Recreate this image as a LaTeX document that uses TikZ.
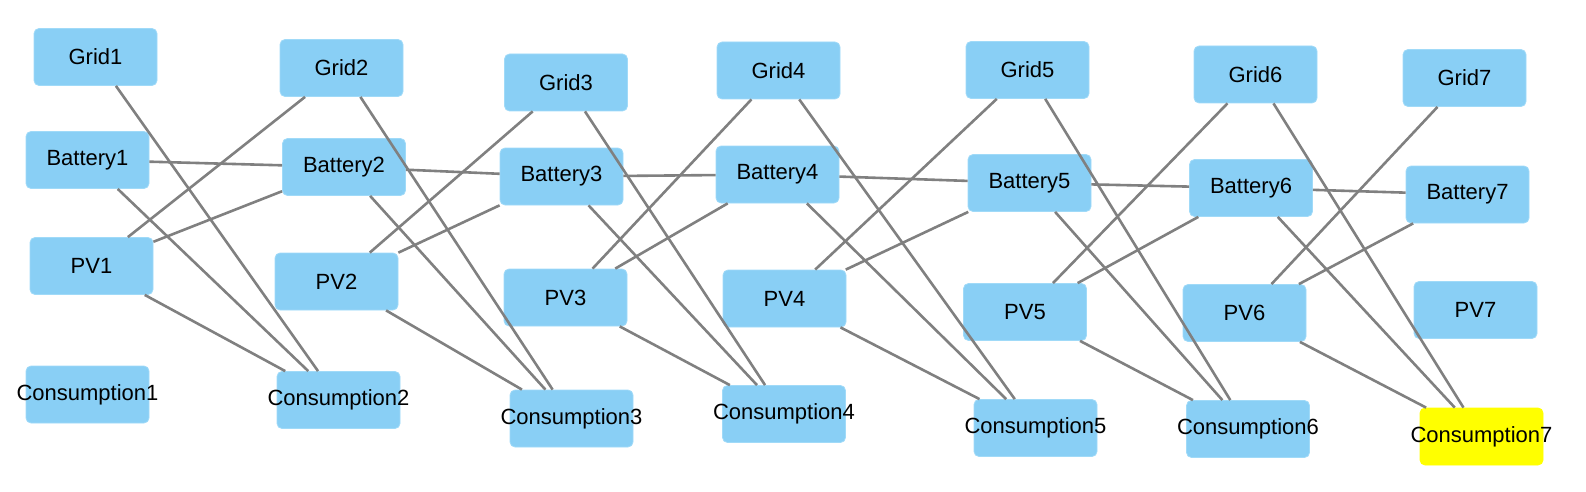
\documentclass[tikz,border=0pt]{standalone}
\usepackage{fontspec}
\setmainfont{Liberation Sans}
\definecolor{boxblue}{RGB}{137,207,245}
\definecolor{boxedge}{RGB}{160,218,248}
\definecolor{linegray}{RGB}{128,128,128}
\definecolor{hiyellow}{RGB}{255,255,0}
\newcommand\lbl[1]{\makebox[0pt]{#1}}
\begin{document}
\begin{tikzpicture}[x=1pt,y=-1pt,
  nodebox/.style={rectangle,rounded corners=5pt,fill=boxblue,draw=boxedge,line width=0.8pt,
    minimum width=123pt,minimum height=57pt,inner sep=0pt,
    font=\fontsize{22}{26}\selectfont},
  hinode/.style={nodebox,fill=hiyellow,draw=hiyellow},
  link/.style={draw=linegray,line width=2.6pt}]
\useasboundingbox (0,0) rectangle (1586,492);
% Grid row
\node[nodebox] (g1) at (95.5,57) {Grid1};
\node[nodebox] (g2) at (341.5,68) {Grid2};
\node[nodebox] (g3) at (566,82.5) {Grid3};
\node[nodebox] (g4) at (778.5,70.5) {Grid4};
\node[nodebox] (g5) at (1027.5,70) {Grid5};
\node[nodebox] (g6) at (1255.5,74.5) {Grid6};
\node[nodebox] (g7) at (1464.5,78) {Grid7};
% Battery row
\node[nodebox] (b1) at (87.5,160) {Battery1};
\node[nodebox] (b2) at (344,167) {Battery2};
\node[nodebox] (b3) at (561.5,176.5) {Battery3};
\node[nodebox] (b4) at (777.5,174.5) {Battery4};
\node[nodebox] (b5) at (1029.5,183) {Battery5};
\node[nodebox] (b6) at (1251,188) {Battery6};
\node[nodebox] (b7) at (1467.5,194.5) {Battery7};
% PV row
\node[nodebox] (p1) at (91.5,266) {PV1};
\node[nodebox] (p2) at (336.5,281.5) {PV2};
\node[nodebox] (p3) at (565.5,297.5) {PV3};
\node[nodebox] (p4) at (784.5,298.5) {PV4};
\node[nodebox] (p5) at (1025,312) {PV5};
\node[nodebox] (p6) at (1244.5,313) {PV6};
\node[nodebox] (p7) at (1475.5,310) {PV7};
% Consumption row
\node[nodebox] (c1) at (87.5,394.5) {\lbl{Consumption1}};
\node[nodebox] (c2) at (338.5,400) {\lbl{Consumption2}};
\node[nodebox] (c3) at (571.5,418.5) {\lbl{Consumption3}};
\node[nodebox] (c4) at (784,414) {\lbl{Consumption4}};
\node[nodebox] (c5) at (1035.5,428) {\lbl{Consumption5}};
\node[nodebox] (c6) at (1248,429) {\lbl{Consumption6}};
\node[hinode] (c7) at (1481.5,436.5) {\lbl{Consumption7}};
% Connectors
\foreach \i/\j in {1/2,2/3,3/4,4/5,5/6,6/7}{
  \draw[link] (g\i) -- (c\j);
  \draw[link] (b\i) -- (c\j);
  \draw[link] (p\i) -- (c\j);
  \draw[link] (g\j) -- (p\i);
  \draw[link] (b\j) -- (p\i);
  \draw[link] (b\i) -- (b\j);
}
\end{tikzpicture}
\end{document}
